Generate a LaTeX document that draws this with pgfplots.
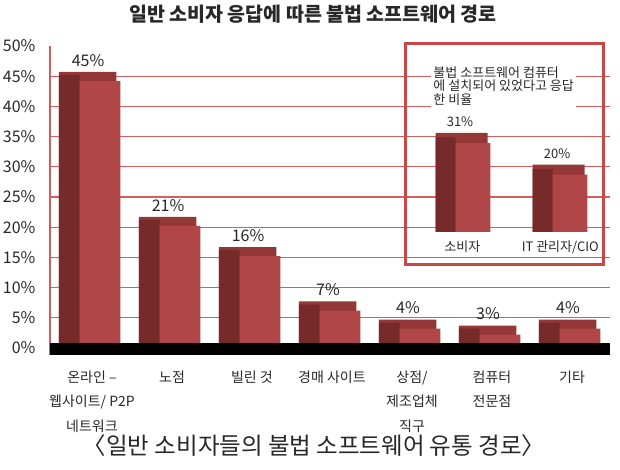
\documentclass[border=0pt]{standalone}
\usepackage{fontspec}
\setmainfont{Noto Sans CJK KR}
\usepackage{pgfplots}
\pgfplotsset{compat=1.18}
\usepackage{pgfplotstable}
\definecolor{front}{RGB}{176,70,72}
\definecolor{side}{RGB}{118,42,42}
\definecolor{topc}{RGB}{148,55,55}
\definecolor{gridred}{RGB}{214,92,96}
\definecolor{boxred}{RGB}{200,72,72}
\definecolor{txt}{RGB}{40,40,40}

\pgfplotstableread{
x v
0 45
1 21
2 16
3 7
4 4
5 3
6 4
}\maindata
\pgfplotstableread{
x v
0 31
1 20
}\insetdata

\begin{document}
\begin{tikzpicture}[x=1pt,y=1pt]
\useasboundingbox (0,0) rectangle (620,470);
\begin{axis}[
  scale only axis, width=560pt, height=309pt,
  at={(50pt,115pt)}, anchor=south west,
  xmin=-0.625, xmax=6.375, ymin=-1.16, ymax=50,
  axis lines=left, axis line style={-},
  x axis line style={draw=none},
  y axis line style={draw=gridred, line width=1.2pt},
  ytick={0,5,...,50},
  yticklabel={\pgfmathprintnumber{\tick}\%},
  /pgf/number format/assume math mode=true,
  yticklabel style={font=\fontsize{16}{16}\selectfont, xshift=-11pt, text=txt},
  major tick length=0pt,
  extra y ticks={5,10,...,45}, extra y tick labels={},
  extra y tick style={grid=major, major grid style={draw=gridred, line width=1.2pt}},
  xtick={0,...,6},
  xticklabels={{온라인 –\\웹사이트/ P2P\\네트워크},{노점},{빌린 것},{경매 사이트},{상점/\\제조업체\\직구},{컴퓨터\\전문점},{기타}},
  xticklabel style={align=center, font=\fontsize{14}{24.5}\selectfont, xshift=-8pt, yshift=-12pt, anchor=north, text=txt},
  clip=false,
]
\addplot[ybar, bar width=0.72, bar shift=-0.155, fill=topc, draw=none] table[x=x, y expr=\thisrow{v}+0.7] {\maindata};
\addplot[ybar, bar width=0.26, bar shift=-0.385, fill=side, draw=none] table[x=x, y expr=\thisrow{v}+0.2] {\maindata};
\addplot[ybar, bar width=0.51, bar shift=0, fill=front, draw=none] table[x=x, y expr=\thisrow{v}-0.8] {\maindata};
\addplot[fill=black, draw=none] coordinates {(-0.625,-1.16) (6.375,-1.16) (6.375,0.83) (-0.625,0.83)} -- cycle;
\addplot[draw=none, mark=none, nodes near coords={\pgfmathprintnumber{\pgfplotspointmeta}\%},
  nodes near coords style={anchor=center, yshift=16pt, xshift=-12pt, font=\fontsize{16}{16}\selectfont, text=txt}]
  table[x=x, y=v] {\maindata};
\end{axis}

\begin{axis}[
  scale only axis, width=198pt, height=221pt,
  at={(405pt,205pt)}, anchor=south west,
  xmin=-0.701, xmax=1.340, ymin=-11.5, ymax=65.5,
  axis line style={draw=boxred, line width=3pt},
  /pgf/number format/assume math mode=true,
  ticks=none, clip=false,
]
\addplot[ybar, bar width=0.536, bar shift=-0.118, fill=topc, draw=none] table[x=x, y expr=\thisrow{v}+3.5] {\insetdata};
\addplot[ybar, bar width=0.206, bar shift=-0.283, fill=side, draw=none] table[x=x, y expr=\thisrow{v}+2] {\insetdata};
\addplot[ybar, bar width=0.36, bar shift=0, fill=front, draw=none] table[x=x, y=v] {\insetdata};
\addplot[draw=none, mark=none, nodes near coords={\pgfmathprintnumber{\pgfplotspointmeta}\%},
  nodes near coords style={anchor=center, yshift=21pt, xshift=-13pt, font=\fontsize{13}{13}\selectfont, text=txt}]
  table[x=x, y=v] {\insetdata};
\node[font=\fontsize{13}{13}\selectfont, text=txt] at (axis cs:-0.11,-5.2) {소비자};
\node[font=\fontsize{13}{13}\selectfont, text=txt] at (axis cs:-0.10,-5.2) [xshift=97pt] {IT 관리자/CIO};
\node[anchor=north west, fill=white, align=left, inner sep=2pt, font=\fontsize{13}{13.3}\selectfont, text=txt]
  at (axis cs:-0.43,58.3) {불법 소프트웨어 컴퓨터\\에 설치되어 있었다고 응답\\한 비율};
\end{axis}

\node[font=\bfseries\fontsize{19.5}{19.5}\selectfont, text=txt] at (313,456) {일반 소비자 응답에 따른 불법 소프트웨어 경로};
\node[font=\fontsize{23.5}{23.5}\selectfont, text=txt] at (314,24) {〈일반 소비자들의 불법 소프트웨어 유통 경로〉};
\end{tikzpicture}
\end{document}
